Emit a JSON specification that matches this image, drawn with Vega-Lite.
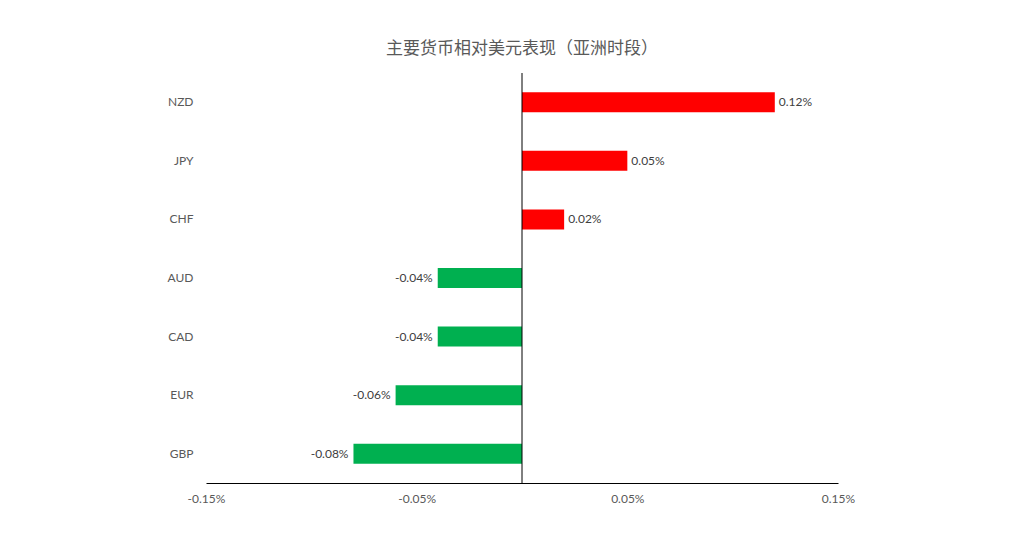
{
  "$schema": "https://vega.github.io/schema/vega-lite/v6.json",
  "autosize": "none",
  "width": 632,
  "height": 410,
  "padding": {"left": 206, "top": 73, "right": 186, "bottom": 76},
  "background": "white",
  "title": {
    "text": "主要货币相对美元表现（亚洲时段）",
    "font": "Noto Sans CJK SC",
    "fontSize": 17,
    "fontWeight": "normal",
    "color": "#595959",
    "anchor": "middle",
    "offset": 15
  },
  "config": {
    "view": {"stroke": null},
    "font": "Lato"
  },
  "data": {
    "values": [
      {"currency": "NZD", "change": 0.0012},
      {"currency": "JPY", "change": 0.0005},
      {"currency": "CHF", "change": 0.0002},
      {"currency": "AUD", "change": -0.0004},
      {"currency": "CAD", "change": -0.0004},
      {"currency": "EUR", "change": -0.0006},
      {"currency": "GBP", "change": -0.0008}
    ]
  },
  "transform": [
    {"calculate": "replace(format(datum.change, '.2%'), '\u2212', '-')", "as": "label"}
  ],
  "encoding": {
    "y": {
      "field": "currency",
      "type": "nominal",
      "sort": null,
      "title": null,
      "scale": {"paddingInner": 0, "paddingOuter": 0},
      "axis": {
        "domain": false,
        "ticks": false,
        "labelPadding": 13,
        "labelFont": "Lato",
        "labelFontSize": 12,
        "labelColor": "#595959"
      }
    },
    "x": {
      "field": "change",
      "type": "quantitative",
      "title": null,
      "scale": {"domain": [-0.0015, 0.0015], "nice": false},
      "axis": {
        "values": [-0.0015, -0.0005, 0.0005, 0.0015],
        "labelExpr": "replace(format(datum.value, '.2%'), '\u2212', '-')",
        "labelFlush": false,
        "grid": false,
        "ticks": false,
        "domainColor": "#000000",
        "domainWidth": 1,
        "labelPadding": 10,
        "labelFont": "Lato",
        "labelFontSize": 12,
        "labelColor": "#595959"
      }
    }
  },
  "layer": [
    {
      "mark": {"type": "bar", "height": 20},
      "encoding": {
        "color": {
          "condition": {"test": "datum.change > 0", "value": "#FF0000"},
          "value": "#00B050"
        }
      }
    },
    {
      "transform": [{"filter": "datum.change > 0"}],
      "mark": {"type": "text", "align": "left", "dx": 4, "fontSize": 12, "color": "#404040"},
      "encoding": {"text": {"field": "label", "type": "nominal"}}
    },
    {
      "transform": [{"filter": "datum.change < 0"}],
      "mark": {"type": "text", "align": "right", "dx": -5, "fontSize": 12, "color": "#404040"},
      "encoding": {"text": {"field": "label", "type": "nominal"}}
    },
    {
      "data": {"values": [{"zero": 0}]},
      "transform": [],
      "mark": {"type": "rule", "color": "#000000", "strokeWidth": 1},
      "encoding": {
        "x": {"field": "zero", "type": "quantitative"},
        "y": null
      }
    }
  ]
}
